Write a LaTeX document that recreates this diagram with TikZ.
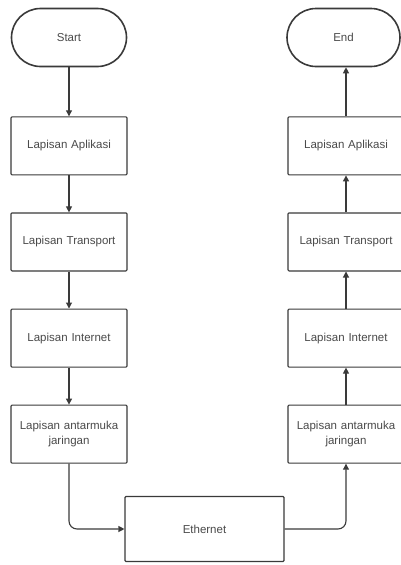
\documentclass[tikz,border=0pt]{standalone}
\usepackage{fontspec}
\setmainfont{Liberation Sans}
\usetikzlibrary{arrows.meta,positioning}
\definecolor{lineGray}{HTML}{3A3A3A}
\definecolor{textGray}{HTML}{4A4A4A}

\begin{document}
\begin{tikzpicture}[node distance=37pt,
  term/.style={draw=lineGray,line width=1.6pt,rounded corners=29pt,fill=white,minimum width=115pt,minimum height=58pt,text=textGray,font=\fontsize{11.5}{15}\selectfont},
  layer/.style={draw=lineGray,line width=1.1pt,rounded corners=1pt,fill=white,minimum width=116pt,minimum height=58pt,text width=108pt,align=center,text=textGray,font=\fontsize{11.5}{15}\selectfont},
  flow/.style={draw=lineGray,line width=1.1pt,rounded corners=8pt,-{Triangle[length=6pt,width=6pt]}}]
  \useasboundingbox (0,0) rectangle (401pt,-565pt);
  \clip (0,0) rectangle (401pt,-565pt);
  % sending side
  \node[term] (start) at (69pt,-37.5pt) {Start};
  \node[layer,below=49pt of start] (appL) {Lapisan Aplikasi};
  \node[layer,below=of appL] (trL) {Lapisan Transport};
  \node[layer,below=of trL] (inL) {Lapisan Internet};
  \node[layer,below=of inL] (nicL) {Lapisan antarmuka\\jaringan};
  % receiving side
  \node[layer] (appR) at ([xshift=277pt]appL) {Lapisan Aplikasi};
  \node[layer,below=of appR] (trR) {Lapisan Transport};
  \node[layer,below=of trR] (inR) {Lapisan Internet};
  \node[layer,below=of inR] (nicR) {Lapisan antarmuka\\jaringan};
  \node[term,minimum width=113pt,above=49pt of appR,xshift=-2.5pt] (end) {End};
  % medium
  \node[layer,minimum width=159pt,minimum height=65pt,text width=150pt] (eth) at (204.5pt,-529pt) {Ethernet};

  \draw[flow] (start) -- (appL);
  \draw[flow] (appL) -- (trL);
  \draw[flow] (trL) -- (inL);
  \draw[flow] (inL) -- (nicL);
  \draw[flow] (nicL.south) |- (eth.west);
  \draw[flow] (eth.east) -| (nicR.south);
  \draw[flow] (nicR) -- (inR);
  \draw[flow] (inR) -- (trR);
  \draw[flow] (trR) -- (appR);
  \draw[flow] (appR.north) -- (appR.north |- end.south);
\end{tikzpicture}
\end{document}
